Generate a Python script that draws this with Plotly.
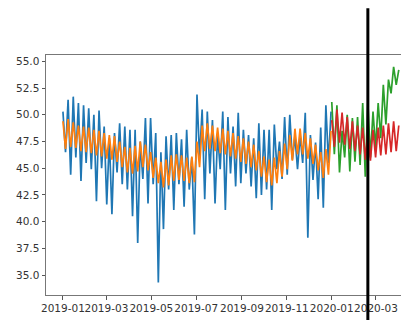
import pandas as pd
import plotly.graph_objects as go

# ---- data ----
blue_highs = [50.3, 51.4, 51.7, 51.1, 50.9, 50.6, 50.0, 50.4, 48.9, 47.8,
              48.3, 49.2, 48.9, 48.6, 48.6, 47.5, 49.7, 49.7, 48.3, 46.5,
              48.0, 48.1, 48.3, 47.7, 48.6, 46.0, 51.9, 50.5, 50.3, 49.5,
              48.2, 50.3, 49.8, 48.9, 50.2, 48.6, 48.1, 47.8, 49.2, 48.6,
              48.6, 49.1, 47.5, 49.8, 50.0, 48.0, 48.1, 50.2, 48.1, 47.4,
              48.8, 50.9, 50.3]
blue_lows = [46.5, 44.4, 46.0, 43.8, 45.5, 44.9, 41.9, 45.0, 41.6, 40.7,
             44.6, 43.5, 43.0, 40.5, 38.0, 44.0, 41.7, 43.5, 34.3, 39.3,
             43.0, 41.1, 43.5, 41.4, 43.0, 38.8, 46.0, 42.1, 44.5, 41.7,
             44.9, 41.1, 44.5, 43.3, 43.6, 44.5, 43.3, 42.2, 42.5, 43.0,
             41.1, 44.9, 44.0, 44.4, 45.8, 44.9, 45.5, 38.5, 43.9, 42.1,
             41.3, 45.5]
orange_highs = [49.4, 49.6, 49.3, 49.0, 48.9, 48.8, 48.6, 48.5, 48.3, 48.1,
                48.0, 47.5, 47.0, 46.9, 47.1, 47.5, 47.2, 46.5, 46.0, 45.6,
                45.8, 46.2, 46.3, 46.2, 46.0, 46.1, 47.5, 49.0, 49.2, 49.0,
                48.8, 48.7, 48.5, 48.3, 48.0, 47.8, 47.5, 47.2, 46.6, 46.1,
                45.8, 46.0, 46.6, 47.3, 48.1, 48.7, 48.7, 48.3, 47.8, 47.2,
                46.5, 46.8, 48.5]
orange_lows = [46.8, 47.0, 46.9, 46.6, 46.5, 46.4, 46.2, 46.1, 45.9, 45.8,
               45.6, 45.1, 44.6, 44.5, 44.7, 45.1, 44.8, 44.1, 43.6, 43.2,
               43.4, 43.8, 43.9, 43.8, 43.6, 43.7, 45.1, 46.6, 46.8, 46.6,
               46.4, 46.3, 46.1, 45.9, 45.6, 45.4, 45.1, 44.8, 44.2, 43.7,
               43.4, 43.6, 44.2, 44.9, 45.7, 46.3, 46.3, 45.9, 45.4, 44.8,
               44.1, 44.4]
green_highs = [51.2, 50.9, 48.5, 50.0, 49.7, 49.8, 51.1, 51.2, 50.3, 51.1,
               52.8, 53.3, 54.5, 54.2]
green_lows = [46.3, 44.6, 46.0, 44.7, 45.6, 45.3, 44.2, 46.0, 46.9, 47.8,
              49.1, 52.0, 52.8]
red_highs = [49.5, 50.5, 50.2, 49.8, 49.4, 49.0, 48.8, 48.5, 48.6, 48.8,
             49.0, 49.2, 49.4, 49.0]
red_lows = [47.0, 47.4, 47.2, 46.8, 46.6, 46.3, 45.8, 45.7, 46.0, 46.2,
            46.3, 46.5, 46.6]

train_start = "2019-01-01"
test_start = "2020-01-01"
split_date = "2020-02-19"
tick_vals = ["2019-01-01", "2019-03-01", "2019-05-01", "2019-07-01", "2019-09-01",
             "2019-11-01", "2020-01-01", "2020-03-01"]
tick_labels = ["2019-01", "2019-03", "2019-05", "2019-07", "2019-09",
               "2019-11", "2020-01", "2020-03"]
y_ticks = [35.0, 37.5, 40.0, 42.5, 45.0, 47.5, 50.0, 52.5, 55.0]


def interleave(highs, lows):
    out = []
    for i, h in enumerate(highs):
        out.append(h)
        if i < len(lows):
            out.append(lows[i])
    return out


blue = interleave(blue_highs, blue_lows)
orange = interleave(orange_highs, orange_lows)
green = interleave(green_highs, green_lows)
red = interleave(red_highs, red_lows)

train_dates = pd.date_range(train_start, periods=len(blue), freq="84h")
test_dates = pd.date_range(test_start, periods=len(green), freq="84h")

fig = go.Figure()
fig.add_trace(go.Scatter(x=train_dates, y=blue, mode="lines",
                         line=dict(color="#1f77b4", width=1.7)))
fig.add_trace(go.Scatter(x=train_dates, y=orange, mode="lines",
                         line=dict(color="#ff7f0e", width=1.7)))
fig.add_trace(go.Scatter(x=test_dates, y=green, mode="lines",
                         line=dict(color="#2ca02c", width=1.7)))
fig.add_trace(go.Scatter(x=test_dates, y=red, mode="lines",
                         line=dict(color="#d62728", width=1.7)))

fig.add_shape(type="line", xref="x", yref="paper",
              x0=split_date, x1=split_date, y0=-0.12, y1=1.195,
              line=dict(color="black", width=3), layer="above")

fig.update_layout(
    width=401, height=320,
    margin=dict(l=46, r=0, t=55, b=25, autoexpand=False),
    paper_bgcolor="white", plot_bgcolor="white",
    showlegend=False,
    font=dict(family="DejaVu Sans", size=10.5, color="#333"),
    xaxis=dict(range=["2018-12-09", "2020-04-04"],
               tickvals=tick_vals, ticktext=tick_labels, tickangle=0,
               automargin=False,
               showgrid=False, zeroline=False,
               showline=True, linecolor="#777", linewidth=1, mirror=True,
               ticks="outside", ticklen=3.5, tickcolor="#555", tickwidth=1),
    yaxis=dict(range=[33.13, 55.6], tickvals=y_ticks,
               ticktext=[f"{v:.1f}" for v in y_ticks], automargin=False,
               showgrid=False, zeroline=False,
               showline=True, linecolor="#777", linewidth=1,
               ticks="outside", ticklen=3.5, tickcolor="#555", tickwidth=1),
)

fig.write_html("out.html")
